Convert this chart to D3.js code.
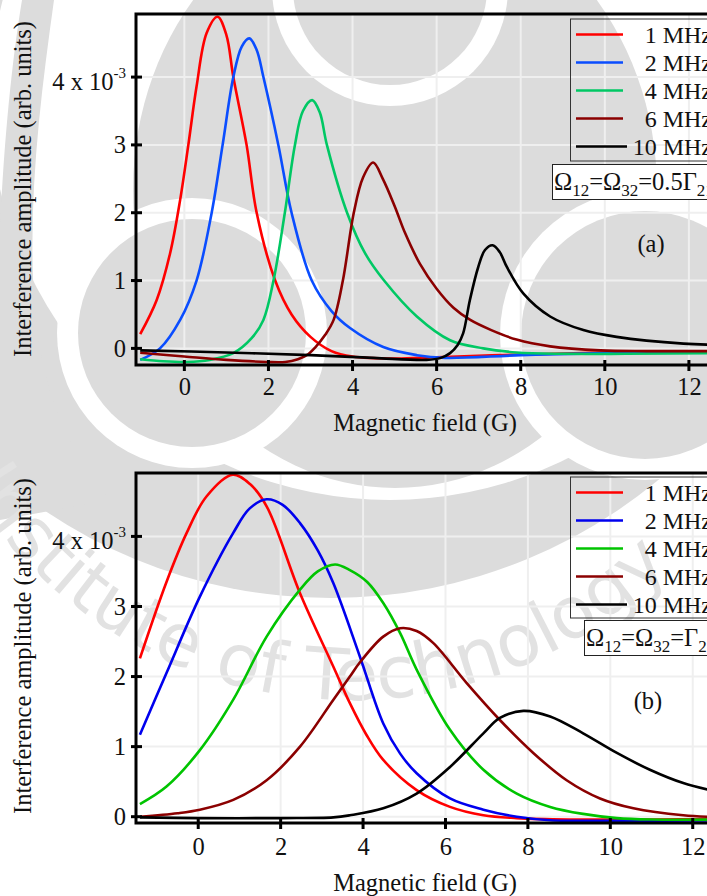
<!DOCTYPE html>
<html>
<head>
<meta charset="utf-8">
<script src="https://cdn.jsdelivr.net/npm/d3@7"></script>
<style>
  body { margin: 0; background: #fff; }
  svg { display: block; }
  text { font-family: "Liberation Serif", "Times New Roman", serif; fill: #111; }
</style>
</head>
<body>
<svg id="chart" width="707" height="896"></svg>
<script>
// amplitudes are in units of 1e-3 (arb. units), field in gauss
var seriesNames = ["1 MHz", "2 MHz", "4 MHz", "6 MHz", "10 MHz"];
var xTicks = [0, 2, 4, 6, 8, 10, 12];
var yTicks = [0, 1, 2, 3, 4];

// panel (a): Omega12 = Omega32 = 0.5 Gamma
var a_1MHz = [[-1.05,0.21],[-0.66,0.71],[-0.34,1.40],[-0.1,2.19],[0.095,3.0],[0.29,3.86],[0.53,4.65],[0.79,4.89],[1.0,4.62],[1.165,4.0],[1.48,3.0],[1.72,2.0],[2.16,1.0],[2.55,0.5],[3.0,0.17],[3.5,-0.04],[4.0,-0.12],[5.0,-0.15],[6.0,-0.13],[8.0,-0.09],[10.0,-0.06],[12.8,-0.05]];
var a_2MHz = [[-1.05,-0.17],[-0.58,0.0],[-0.10,0.42],[0.29,1.0],[0.65,2.0],[0.91,3.0],[1.165,4.0],[1.365,4.45],[1.545,4.57],[1.72,4.40],[1.88,4.0],[2.235,3.0],[2.55,2.0],[3.03,1.0],[3.5,0.55],[3.94,0.3],[4.73,0.02],[5.53,-0.1],[6.2,-0.14],[8.0,-0.1],[10.0,-0.07],[12.8,-0.05]];
var a_4MHz = [[-1.05,-0.16],[-0.5,-0.19],[0.06,-0.2],[0.6,-0.17],[1.165,-0.07],[1.6,0.15],[1.88,0.42],[2.12,1.0],[2.39,2.0],[2.63,3.0],[2.82,3.5],[3.04,3.66],[3.22,3.48],[3.39,3.0],[3.87,2.0],[4.3,1.4],[4.75,1.0],[5.53,0.47],[6.32,0.12],[7.11,0.0],[7.9,-0.06],[9.0,-0.08],[10.5,-0.08],[12.8,-0.07]];
var a_6MHz = [[-1.05,-0.065],[0.0,-0.12],[1.0,-0.17],[1.96,-0.2],[2.4,-0.2],[2.7,-0.16],[2.91,-0.1],[3.12,0.02],[3.35,0.2],[3.55,0.42],[3.77,1.0],[4.03,2.0],[4.25,2.52],[4.49,2.74],[4.72,2.5],[5.0,2.1],[5.25,1.7],[5.6,1.25],[6.0,0.88],[6.4,0.6],[6.8,0.42],[7.3,0.27],[7.9,0.13],[8.7,0.03],[9.9,-0.03],[11.0,-0.04],[12.8,-0.04]];
var a_10MHz = [[-1.05,-0.03],[1.0,-0.06],[3.0,-0.1],[4.5,-0.14],[5.76,-0.17],[6.1,-0.14],[6.32,-0.07],[6.5,0.05],[6.63,0.22],[6.79,0.71],[6.99,1.2],[7.15,1.45],[7.33,1.52],[7.5,1.42],[7.67,1.2],[8.06,0.81],[8.7,0.47],[9.49,0.27],[10.28,0.17],[11.87,0.07],[12.8,0.05]];

// panel (b): Omega12 = Omega32 = Gamma
var b_1MHz = [[-1.415,2.26],[-0.77,3.35],[-0.28,4.05],[0.2,4.57],[0.835,4.88],[1.25,4.75],[1.66,4.43],[2.47,3.19],[3.28,2.14],[3.68,1.62],[4.08,1.17],[4.49,0.81],[5.3,0.38],[6.11,0.14],[6.92,0.02],[7.73,-0.02],[9.0,-0.04],[11.0,-0.04],[12.8,-0.03]];
var b_2MHz = [[-1.415,1.17],[-0.77,2.05],[0.04,3.14],[0.85,4.05],[1.25,4.4],[1.66,4.53],[2.05,4.45],[2.47,4.19],[2.9,3.8],[3.28,3.33],[3.92,2.29],[4.49,1.33],[4.9,0.9],[5.3,0.62],[6.11,0.26],[6.92,0.1],[7.73,0.0],[8.54,-0.05],[10.0,-0.06],[12.8,-0.05]];
var b_4MHz = [[-1.415,0.18],[-0.77,0.43],[0.04,0.95],[0.85,1.67],[1.66,2.57],[2.47,3.24],[2.9,3.5],[3.32,3.6],[3.68,3.52],[4.1,3.35],[4.49,3.05],[4.9,2.62],[5.3,2.1],[6.11,1.24],[6.92,0.67],[7.73,0.33],[8.54,0.14],[9.34,0.04],[10.16,-0.02],[11.0,-0.04],[12.8,-0.04]];
var b_6MHz = [[-1.415,0.0],[-0.5,0.05],[0.04,0.1],[0.85,0.24],[1.66,0.52],[2.47,1.0],[3.28,1.67],[3.68,2.0],[3.92,2.2],[4.49,2.57],[4.9,2.69],[5.3,2.65],[5.7,2.48],[6.51,1.91],[7.32,1.38],[8.13,0.91],[8.94,0.52],[9.75,0.26],[10.56,0.12],[11.77,0.02],[12.8,-0.01]];
var b_10MHz = [[-1.415,-0.01],[0.0,-0.02],[2.0,-0.02],[3.28,-0.01],[3.68,0.02],[4.49,0.12],[5.3,0.33],[6.11,0.71],[6.92,1.19],[7.32,1.41],[7.89,1.51],[8.54,1.43],[9.34,1.19],[10.16,0.91],[10.96,0.67],[11.77,0.48],[12.8,0.33]];

var colorsA = ["#ff0000", "#0a4dff", "#00c864", "#8b0000", "#000000"];
var colorsB = ["#ff0000", "#0000ee", "#00c400", "#8b0000", "#000000"];

var svg = d3.select("#chart");

// ---- watermark (logo behind the plots) ----
var wm = svg.append("g");
var grey = "#dcdcdc";
wm.append("circle").attr("cx", 331).attr("cy", 85).attr("r", 513).attr("fill", grey);
wm.append("circle").attr("cx", 390).attr("cy", 100).attr("r", 400).attr("fill", "#fff");
// left band
wm.append("path").attr("d", "M22,0 L54,0 C40,100 28,200 34,300 C40,380 60,440 110,500 L0,520 L0,230 C4,140 12,60 22,0 Z").attr("fill", grey);
// centre body
wm.append("ellipse").attr("cx", 395).attr("cy", 190).attr("rx", 262).attr("ry", 298).attr("fill", grey);
// ringed discs
[[390, -12, 97], [192, 333, 114], [645, 335, 124]].forEach(function (c) {
    wm.append("circle").attr("cx", c[0]).attr("cy", c[1]).attr("r", c[2] + 21).attr("fill", "#fff");
    wm.append("circle").attr("cx", c[0]).attr("cy", c[1]).attr("r", c[2]).attr("fill", grey);
});
// lettering round the logo
wm.append("path").attr("id", "wmArc").attr("fill", "none")
    .attr("d", "M" + (350 - 450) + ",250 A450,450 0 0,0 " + (350 + 450) + ",250");
wm.append("text").style("font-family", "DejaVu Sans")
    .style("font-size", "72px").style("fill", "#e2e2e2")
    .append("textPath").attr("href", "#wmArc").attr("startOffset", 245)
    .text("Institute of Technology");

function drawPanel(cfg) {
    var g = svg.append("g");
    var x = d3.scaleLinear().domain(cfg.xDomain).range([136, 736]);
    var y = d3.scaleLinear().domain(cfg.yDomain).range([cfg.bottom, cfg.top]);
    var clipId = "clip" + cfg.tag;
    g.append("clipPath").attr("id", clipId).append("rect")
        .attr("x", 136).attr("y", cfg.top).attr("width", 600).attr("height", cfg.bottom - cfg.top);

    // grid
    g.append("g").selectAll("line").data(xTicks).enter().append("line")
        .attr("x1", function (d) { return x(d); }).attr("x2", function (d) { return x(d); })
        .attr("y1", cfg.top).attr("y2", cfg.bottom)
        .style("stroke", "#efefef").style("stroke-width", 2);
    g.append("g").selectAll("line").data(yTicks).enter().append("line")
        .attr("x1", 136).attr("x2", 736)
        .attr("y1", function (d) { return y(d); }).attr("y2", function (d) { return y(d); })
        .style("stroke", "#efefef").style("stroke-width", 2);

    // legend box (transparent) drawn under the curves
    var lg = g.append("g");
    lg.append("rect").attr("x", 570.5).attr("y", cfg.legTop).attr("width", 160).attr("height", cfg.legH)
        .attr("fill", "none").attr("stroke", "#333").attr("stroke-width", 1);

    var line = d3.line()
        .x(function (d) { return x(d[0]); })
        .y(function (d) { return y(d[1]); })
        .curve(d3.curveCatmullRom.alpha(0.5));

    g.append("g").attr("clip-path", "url(#" + clipId + ")")
        .selectAll("path").data(cfg.series).enter().append("path")
        .attr("d", line)
        .attr("fill", "none")
        .attr("stroke", function (d, i) { return cfg.colors[i]; })
        .attr("stroke-width", 2.6);

    seriesNames.forEach(function (name, i) {
        var ly = cfg.legTop + 15.5 + i * 28;
        lg.append("line").attr("x1", 576).attr("x2", i === 4 ? 627 : 623).attr("y1", ly).attr("y2", ly)
            .attr("stroke", cfg.colors[i]).attr("stroke-width", 2.6);
        lg.append("text").attr("x", 712).attr("y", ly + 8).attr("text-anchor", "end")
            .style("font-size", "24px").text(name);
    });

    // parameter box
    var pb = g.append("g");
    pb.append("rect").attr("x", cfg.boxX + 0.5).attr("y", cfg.boxTop + 0.5).attr("width", 200).attr("height", 35)
        .attr("fill", "#fff").attr("stroke", "#222").attr("stroke-width", 1);
    var pt = pb.append("text").attr("x", cfg.boxX + 2).attr("y", cfg.boxTop + 26).style("font-size", "24.5px");
    pt.append("tspan").text("\u03A9");
    pt.append("tspan").attr("dy", 6).style("font-size", "17px").text("12");
    pt.append("tspan").attr("dy", -6).text("=\u03A9");
    pt.append("tspan").attr("dy", 6).style("font-size", "17px").text("32");
    pt.append("tspan").attr("dy", -6).text("=" + cfg.coef + "\u0393");
    pt.append("tspan").attr("dy", 6).style("font-size", "17px").text("21");

    g.append("text").attr("x", cfg.tagX).attr("y", cfg.tagY).attr("text-anchor", "middle")
        .style("font-size", "24.5px").text("(" + cfg.tag + ")");

    // frame
    g.append("rect").attr("x", 136).attr("y", cfg.top).attr("width", 600).attr("height", cfg.bottom - cfg.top)
        .attr("fill", "none").attr("stroke", "#000").attr("stroke-width", 3);

    // ticks crossing the axes
    g.append("g").selectAll("line").data(xTicks).enter().append("line")
        .attr("x1", function (d) { return x(d); }).attr("x2", function (d) { return x(d); })
        .attr("y1", cfg.bottom - 5).attr("y2", cfg.bottom + 6)
        .attr("stroke", "#000").attr("stroke-width", 3);
    g.append("g").selectAll("line").data(yTicks).enter().append("line")
        .attr("y1", function (d) { return y(d); }).attr("y2", function (d) { return y(d); })
        .attr("x1", 131).attr("x2", 142)
        .attr("stroke", "#000").attr("stroke-width", 3);

    // tick labels via d3 axes (lines hidden, ticks drawn above)
    var xAxis = g.append("g").attr("transform", "translate(0," + cfg.bottom + ")")
        .call(d3.axisBottom(x).tickValues(xTicks).tickSize(0).tickPadding(cfg.xPad).tickFormat(d3.format("d")));
    xAxis.select(".domain").remove();
    xAxis.selectAll("text").style("font-size", "24.5px").style("font-family", "Liberation Serif");

    var yAxis = g.append("g").attr("transform", "translate(136,0)")
        .call(d3.axisLeft(y).tickValues([0, 1, 2, 3]).tickSize(0).tickPadding(10).tickFormat(d3.format("d")));
    yAxis.select(".domain").remove();
    yAxis.selectAll("text").style("font-size", "24.5px").style("font-family", "Liberation Serif");

    var t4 = g.append("text").attr("x", 126).attr("y", y(4) + 13).attr("text-anchor", "end").style("font-size", "24.5px");
    t4.append("tspan").text("4 x 10");
    t4.append("tspan").attr("dy", -12).style("font-size", "15px").text("-3");

    g.append("text").attr("x", 425).attr("y", cfg.xTitleY).attr("text-anchor", "middle")
        .style("font-size", "24.5px").text("Magnetic field (G)");
    g.append("text").attr("transform", "translate(31," + cfg.yTitleMid + ") rotate(-90)")
        .attr("text-anchor", "middle").style("font-size", "24.5px")
        .text("Interference amplitude (arb. units)");
}

drawPanel({
    tag: "a", xDomain: [-1.15, 13.12], yDomain: [-0.245, 4.93], top: 14, bottom: 365,
    series: [a_1MHz, a_2MHz, a_4MHz, a_6MHz, a_10MHz], colors: colorsA,
    legTop: 19, legH: 142, boxX: 552, boxTop: 164, coef: "0.5",
    tagX: 651, tagY: 252, xPad: 13, xTitleY: 431, yTitleMid: 189
});
drawPanel({
    tag: "b", xDomain: [-1.51, 13.05], yDomain: [-0.09, 4.905], top: 473, bottom: 823,
    series: [b_1MHz, b_2MHz, b_4MHz, b_6MHz, b_10MHz], colors: colorsB,
    legTop: 477, legH: 141, boxX: 584, boxTop: 620, coef: "",
    tagX: 648, tagY: 709, xPad: 15, xTitleY: 891, yTitleMid: 646
});
</script>
</body>
</html>
